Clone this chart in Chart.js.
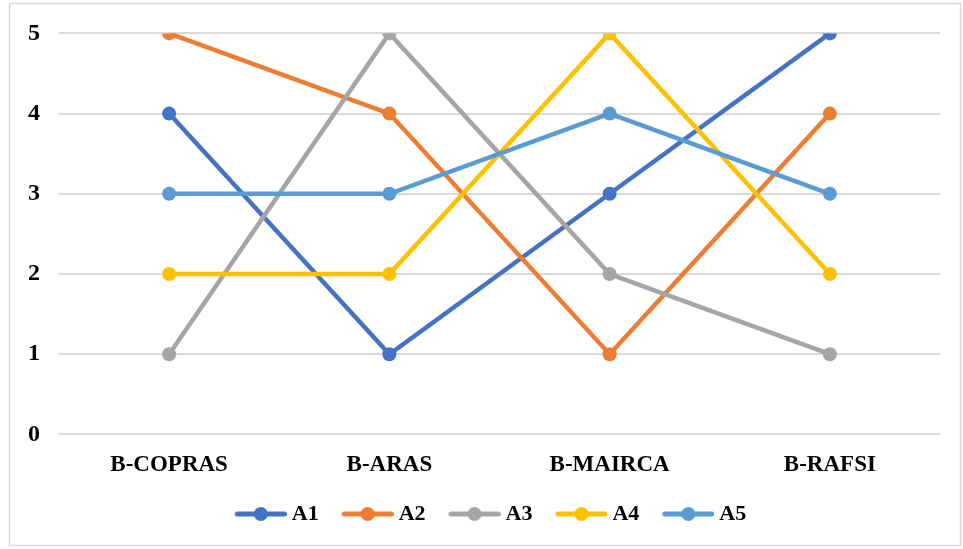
<!DOCTYPE html>
<html>
<head>
<meta charset="utf-8">
<style>
  html, body { margin: 0; padding: 0; background: #ffffff; }
  #wrap { position: relative; width: 963px; height: 549px; }
</style>
<script src="https://cdn.jsdelivr.net/npm/chart.js@4.4.1/dist/chart.umd.min.js"></script>
</head>
<body>
<div id="wrap"><canvas id="chart" width="963" height="549"></canvas></div>
<script>
// Ranking methods along the x axis
const methods = ['B-COPRAS', 'B-ARAS', 'B-MAIRCA', 'B-RAFSI'];

// Rank of each alternative under each method
const A1 = [4, 1, 3, 5];
const A2 = [5, 4, 1, 4];
const A3 = [1, 5, 2, 1];
const A4 = [2, 2, 5, 2];
const A5 = [3, 3, 4, 3];

const seriesNames = ['A1', 'A2', 'A3', 'A4', 'A5'];
const seriesValues = [A1, A2, A3, A4, A5];
const seriesColors = ['#4472C4', '#ED7D31', '#A5A5A5', '#FFC000', '#5B9BD5'];

const yTicks = [0, 1, 2, 3, 4, 5];

const FONT = '"Liberation Serif", "Times New Roman", serif';

// Legend swatch: a short line with a dot in the middle, sitting at the
// right end of the image so it ends just before the label text
function legendSwatch(color) {
  const c = document.createElement('canvas');
  c.width = 74; c.height = 16;
  const g = c.getContext('2d');
  g.strokeStyle = color;
  g.lineWidth = 5;
  g.lineCap = 'round';
  g.beginPath();
  g.moveTo(24.5, 8); g.lineTo(71.5, 8);
  g.stroke();
  g.fillStyle = color;
  g.beginPath();
  g.arc(48, 8, 7, 0, Math.PI * 2);
  g.fill();
  return c;
}
const swatches = seriesColors.map(legendSwatch);

// White background and thin outer frame
const framePlugin = {
  id: 'frame',
  beforeDraw(chart) {
    const ctx = chart.ctx;
    ctx.save();
    ctx.fillStyle = '#ffffff';
    ctx.fillRect(0, 0, chart.width, chart.height);
    ctx.strokeStyle = '#d9d9d9';
    ctx.lineWidth = 1.5;
    ctx.strokeRect(9.5, 3.5, 951, 542);
    ctx.restore();
  }
};

const datasets = seriesNames.map((name, i) => ({
  label: name,
  data: seriesValues[i],
  borderColor: seriesColors[i],
  backgroundColor: seriesColors[i],
  borderWidth: 4.5,
  pointRadius: 7,
  pointHoverRadius: 7,
  pointBorderWidth: 0,
  tension: 0,
  fill: false,
  order: seriesNames.length - 1 - i
}));

new Chart(document.getElementById('chart'), {
  type: 'line',
  data: { labels: methods, datasets },
  plugins: [framePlugin],
  options: {
    responsive: false,
    animation: false,
    layout: { padding: { left: 25, right: 23, top: 29, bottom: 14 } },
    plugins: {
      tooltip: { enabled: false },
      legend: {
        position: 'bottom',
        labels: {
          usePointStyle: true,
          pointStyleWidth: 62,
          padding: 7,
          color: '#000000',
          font: { family: FONT, size: 22, weight: 'bold' },
          sort: (a, b) => a.datasetIndex - b.datasetIndex,
          generateLabels(chart) {
            return chart.data.datasets.map((ds, i) => ({
              text: ds.label,
              datasetIndex: i,
              pointStyle: swatches[i],
              fillStyle: ds.backgroundColor,
              strokeStyle: ds.borderColor,
              lineWidth: 0,
              hidden: false,
              fontColor: '#000000'
            }));
          }
        }
      }
    },
    scales: {
      x: {
        offset: true,
        grid: { display: false, drawTicks: false },
        border: { display: false },
        ticks: {
          padding: 17,
          color: '#000000',
          maxRotation: 0,
          font: { family: FONT, size: 23, weight: 'bold' }
        }
      },
      y: {
        min: 0,
        max: 5,
        afterFit(scale) { scale.width = 34; },
        afterBuildTicks(scale) { scale.ticks = yTicks.map(v => ({ value: v })); },
        grid: { color: '#d9d9d9', lineWidth: 2, drawTicks: false },
        border: { display: false },
        ticks: {
          padding: 19,
          color: '#000000',
          font: { family: FONT, size: 24, weight: 'bold' }
        }
      }
    }
  }
});
</script>
</body>
</html>
